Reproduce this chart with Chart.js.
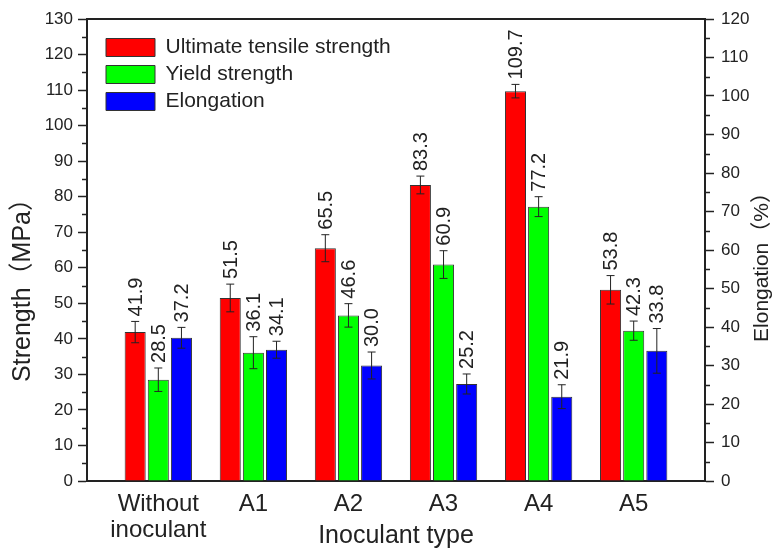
<!DOCTYPE html>
<html>
<head>
<meta charset="utf-8">
<script src="https://cdn.jsdelivr.net/npm/chart.js@4.4.1/dist/chart.umd.min.js"></script>
<style>
  html, body { margin: 0; padding: 0; background: #fff; }
</style>
</head>
<body>
<canvas id="chart" width="774" height="548"></canvas>
<script>
const categories = [["Without", "inoculant"], "A1", "A2", "A3", "A4", "A5"];
const utsValues = [41.9, 51.5, 65.5, 83.3, 109.7, 53.8];
const utsErrors = [3.0, 3.9, 3.8, 2.5, 1.9, 4.0];
const ysValues = [28.5, 36.1, 46.6, 60.9, 77.2, 42.3];
const ysErrors = [3.3, 4.5, 3.3, 3.9, 2.8, 2.7];
const elongValues = [37.2, 34.1, 30.0, 25.2, 21.9, 33.8];
const elongErrors = [2.7, 2.2, 3.5, 2.6, 3.1, 5.8];

const FONT = "'Liberation Sans', Arial, 'Noto Sans CJK SC', sans-serif";
const INK = "#222";

const toPoints = (vals) => vals.map((v, i) => ({ x: i, y: v }));

// error bars + rotated value labels
const errorBars = {
  id: "errorBars",
  afterDatasetsDraw(chart) {
    const ctx = chart.ctx;
    ctx.save();
    chart.data.datasets.forEach((ds, i) => {
      const meta = chart.getDatasetMeta(i);
      const scale = chart.scales[meta.yAxisID];
      meta.data.forEach((bar, j) => {
        const v = ds.data[j].y;
        const e = ds.errors[j];
        const yTop = scale.getPixelForValue(v + e);
        const yBot = scale.getPixelForValue(v - e);
        ctx.strokeStyle = INK;
        ctx.lineWidth = 1;
        ctx.beginPath();
        ctx.moveTo(bar.x, yTop);
        ctx.lineTo(bar.x, yBot);
        ctx.moveTo(bar.x - 4, yTop);
        ctx.lineTo(bar.x + 4, yTop);
        ctx.moveTo(bar.x - 4, yBot);
        ctx.lineTo(bar.x + 4, yBot);
        ctx.stroke();

        ctx.save();
        ctx.translate(bar.x, yTop - 5);
        ctx.rotate(-Math.PI / 2);
        ctx.fillStyle = INK;
        ctx.font = "20px " + FONT;
        ctx.textAlign = "left";
        ctx.textBaseline = "middle";
        ctx.fillText(v.toFixed(1), 0, 1);
        ctx.restore();
      });
    });
    ctx.restore();
  }
};

// frame top line, minor ticks, axis titles
const frame = {
  id: "frame",
  afterLayout(chart) {
    const lg = chart.legend;
    if (lg) {
      lg.left = chart.chartArea.left + 13;
      lg.top = chart.chartArea.top + 12;
    }
  },
  afterDraw(chart) {
    const ctx = chart.ctx;
    const { left, right, top, bottom } = chart.chartArea;
    const y = chart.scales.y;
    const y1 = chart.scales.y1;
    ctx.save();
    ctx.strokeStyle = INK;
    ctx.lineWidth = 2;
    ctx.beginPath();
    ctx.moveTo(left - 1, top);
    ctx.lineTo(right + 1, top);
    ctx.stroke();

    ctx.lineWidth = 1.5;
    ctx.beginPath();
    for (let v = 5; v < 130; v += 10) {
      const p = Math.round(y.getPixelForValue(v)) + 0.5;
      ctx.moveTo(left - 5, p);
      ctx.lineTo(left, p);
    }
    for (let v = 5; v < 120; v += 10) {
      const p = Math.round(y1.getPixelForValue(v)) + 0.5;
      ctx.moveTo(right, p);
      ctx.lineTo(right + 5, p);
    }
    ctx.stroke();

    ctx.fillStyle = INK;
    ctx.textAlign = "center";
    ctx.textBaseline = "middle";

    ctx.save();
    ctx.translate(23, 284);
    ctx.rotate(-Math.PI / 2);
    ctx.font = "25px " + FONT;
    ctx.fillText("Strength（MPa）", 0, 0);
    ctx.restore();

    ctx.save();
    ctx.translate(762, 262);
    ctx.rotate(-Math.PI / 2);
    ctx.font = "21px " + FONT;
    ctx.fillText("Elongation（%）", 0, 0);
    ctx.restore();

    ctx.restore();
  }
};

new Chart(document.getElementById("chart"), {
  type: "bar",
  data: {
    datasets: [
      {
        label: "Ultimate tensile strength",
        data: toPoints(utsValues),
        errors: utsErrors,
        backgroundColor: "#ff0000",
        borderColor: "#333",
        borderWidth: 1,
        yAxisID: "y"
      },
      {
        label: "Yield strength",
        data: toPoints(ysValues),
        errors: ysErrors,
        backgroundColor: "#00ff00",
        borderColor: "#333",
        borderWidth: 1,
        yAxisID: "y"
      },
      {
        label: "Elongation",
        data: toPoints(elongValues),
        errors: elongErrors,
        backgroundColor: "#0000ff",
        borderColor: "#333",
        borderWidth: 1,
        yAxisID: "y1"
      }
    ]
  },
  options: {
    responsive: false,
    animation: false,
    devicePixelRatio: 1,
    categoryPercentage: 0.73,
    barPercentage: 0.91,
    layout: { padding: { top: 19, left: 0, right: 0, bottom: 0 } },
    plugins: {
      legend: {
        position: "chartArea",
        align: "start",
        labels: {
          boxWidth: 49,
          boxHeight: 18,
          padding: 6,
          color: INK,
          font: { family: FONT, size: 21 }
        }
      },
      tooltip: { enabled: false }
    },
    scales: {
      x: {
        type: "linear",
        min: -0.75,
        max: 5.75,
        offset: false,
        grid: { display: true, drawOnChartArea: false, drawTicks: false, offset: false },
        border: { color: INK, width: 2 },
        ticks: {
          stepSize: 1,
          includeBounds: false,
          autoSkip: false,
          maxRotation: 0,
          padding: 10,
          color: INK,
          font: { family: FONT, size: 24, lineHeight: 1.1 },
          callback: (v) => (Number.isInteger(v) ? categories[v] : "")
        },
        title: {
          display: true,
          text: "Inoculant type",
          color: INK,
          font: { family: FONT, size: 25 },
          padding: { top: 0, bottom: -3 }
        },
        afterFit: (s) => { s.height = 67; }
      },
      y: {
        position: "left",
        min: 0,
        max: 130,
        grid: { drawOnChartArea: false, tickLength: 9, tickColor: INK, tickWidth: 1.5 },
        border: { color: INK, width: 2 },
        ticks: {
          stepSize: 10,
          padding: 5,
          color: INK,
          font: { family: FONT, size: 17 }
        },
        afterFit: (s) => { s.width = 87; }
      },
      y1: {
        position: "right",
        min: 0,
        max: 120,
        grid: { drawOnChartArea: false, tickLength: 9, tickColor: INK, tickWidth: 1.5 },
        border: { color: INK, width: 2 },
        ticks: {
          stepSize: 10,
          padding: 7,
          color: INK,
          font: { family: FONT, size: 17 }
        },
        afterFit: (s) => { s.width = 69; }
      }
    }
  },
  plugins: [errorBars, frame]
});
</script>
</body>
</html>
